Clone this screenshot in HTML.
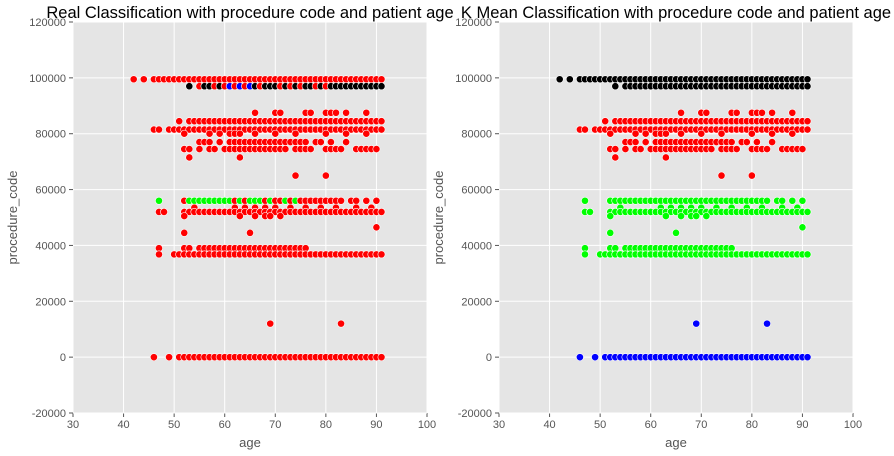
<!DOCTYPE html>
<html><head><meta charset="utf-8"><style>
body{margin:0;background:#fff;}
svg{display:block;font-family:"Liberation Sans",sans-serif;}
</style></head><body>
<svg id="c" width="894" height="456" viewBox="0 0 894 456"></svg>
<script>
const xTicks=[30,40,50,60,70,80,90,100];
const yTicks=[-20000,0,20000,40000,60000,80000,100000,120000];
const rowCodes=[99500,97000,87500,84500,81500,80000,77000,74500,71500,65000,56000,53500,52000,50500,46500,44500,39000,36800,12000,0];
const rowAges=[
[42,44,46,47,48,49,50,51,52,53,54,55,56,57,58,59,60,61,62,63,64,65,66,67,68,69,70,71,72,73,74,75,76,77,78,79,80,81,82,83,84,85,86,87,88,89,90,91],
[53,55,56,57,58,59,60,61,62,63,64,65,66,67,68,69,70,71,72,73,74,75,76,77,78,79,80,81,82,83,84,85,86,87,88,89,90,91],
[66,70,71,76,77,80,81,82,84,88],
[51,53,54,55,56,57,58,59,60,61,62,63,64,65,66,67,68,69,70,71,72,73,74,75,76,77,78,79,80,81,82,83,84,85,86,87,88,89,90,91],
[46,47,49,50,51,52,53,54,55,56,57,58,59,60,61,62,63,64,65,66,67,68,69,70,71,72,73,74,75,76,77,78,79,80,81,82,83,84,85,86,87,88,89,90,91],
[52,57,59,61,62,63,66,70,74,80,84,88],
[55,56,57,59,61,62,63,64,65,66,67,68,69,70,71,72,73,74,75,76,78,79,81,84],
[52,53,55,57,58,60,61,62,63,64,65,66,67,68,69,70,71,72,74,75,76,77,80,81,82,83,86,87,88,89,90],
[53,63],
[74,80],
[47,52,53,54,55,56,57,58,59,60,61,62,63,64,65,66,67,68,69,70,71,72,73,74,75,76,77,78,79,80,81,82,83,85,86,88,90],
[54,62,64,66,68,70,73,76,79,82,86,89],
[47,48,52,53,54,55,56,57,58,59,60,61,62,63,64,65,66,67,68,69,70,71,72,73,74,75,76,77,78,79,80,81,82,83,84,85,86,87,88,89,90,91],
[52,63,66,68,69,71],
[90],
[52,65],
[47,52,53,55,56,57,58,59,60,61,62,63,64,65,66,67,68,69,70,71,72,73,74,75,76],
[47,50,51,52,53,54,55,56,57,58,59,60,61,62,63,64,65,66,67,68,69,70,71,72,73,74,75,76,77,78,79,80,81,82,83,84,85,86,87,88,89,90,91],
[69,83],
[46,49,51,52,53,54,55,56,57,58,59,60,61,62,63,64,65,66,67,68,69,70,71,72,73,74,75,76,77,78,79,80,81,82,83,84,85,86,87,88,89,90,91]
];
const realBlack97=[53,56,57,59,66,68,69,70,72,74,76,77,79,81,82,83,84,85,86,87,88,89,90,91];
const realBlue97=[61,63,65];
const realGreen56=[47,53,54,55,56,57,58,59,60,61,63,65,66,67,69,72,74];

const svg=document.getElementById('c');
const NS='http://www.w3.org/2000/svg';
function mk(t,a,p){const e=document.createElementNS(NS,t);for(const k in a)e.setAttribute(k,a[k]);(p||svg).appendChild(e);return e;}
const T=22,B=413;
function sy(v){return B-(v+20000)/140000*(B-T);}
function kmColor(code){return code>=90000?'#000':code>=60000?'#f00':code>=30000?'#0f0':'#00f';}
function realColor(code,age){
  if(code===97000){if(realBlue97.includes(age))return '#00f';if(realBlack97.includes(age))return '#000';return '#f00';}
  if(code===56000&&realGreen56.includes(age))return '#0f0';
  return '#f00';
}
const panels=[{L:73,R:427,title:'Real Classification with procedure code and patient age',name:'real-panel',col:realColor},
{L:499,R:853,title:'K Mean Classification with procedure code and patient age',name:'kmeans-panel',col:(c)=>kmColor(c)}];
panels.forEach(p=>{
  const g=mk('g',{});
  const sx=v=>p.L+(v-30)/70*(p.R-p.L);
  const bg=mk('rect',{x:p.L,y:T,width:p.R-p.L,height:B-T,fill:'#e5e5e5'},g);
  
  xTicks.forEach(t=>{const x=sx(t);
    mk('line',{x1:x,x2:x,y1:T,y2:B,stroke:'#fff','stroke-width':1},g);
    mk('line',{x1:x,x2:x,y1:B,y2:B+4,stroke:'#555'},g);
    const tx=mk('text',{x:x,y:B+15,'text-anchor':'middle','font-size':11,fill:'#555'},g);tx.textContent=t;
    });
  yTicks.forEach(t=>{const y=sy(t);
    mk('line',{x1:p.L,x2:p.R,y1:y,y2:y,stroke:'#fff','stroke-width':1},g);
    mk('line',{x1:p.L-4,x2:p.L,y1:y,y2:y,stroke:'#555'},g);
    const tx=mk('text',{x:p.L-7,y:y+4,'text-anchor':'end','font-size':11,fill:'#555'},g);tx.textContent=t;
    });
  rowCodes.forEach((code,i)=>{rowAges[i].forEach(a=>{
    const c=mk('circle',{cx:sx(a),cy:sy(code),r:3.6,fill:p.col(code,a),stroke:'#fff','stroke-width':0.6},g);
    });});
  const ti=mk('text',{x:(p.L+p.R)/2,y:18,'text-anchor':'middle','font-size':16.5,fill:'#000'},g);ti.textContent=p.title;
  
  const xl=mk('text',{x:(p.L+p.R)/2,y:447,'text-anchor':'middle','font-size':13,fill:'#555'},g);xl.textContent='age';
  
  const yl=mk('text',{x:0,y:0,'text-anchor':'middle','font-size':13,fill:'#555',transform:`translate(${p.L-56},${(T+B)/2}) rotate(-90)`},g);yl.textContent='procedure_code';
  
});
</script>
</body></html>
